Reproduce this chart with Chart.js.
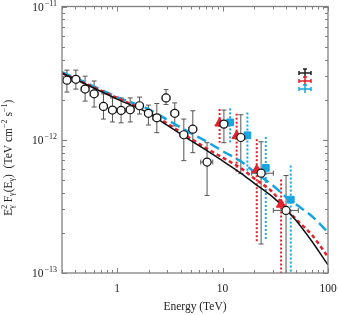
<!DOCTYPE html>
<html>
<head>
<meta charset="utf-8">
<script src="https://cdn.jsdelivr.net/npm/chart.js@4.4.1/dist/chart.umd.min.js"></script>
<style>
  html, body { margin: 0; padding: 0; background: #fff; }
  #wrap { width: 338px; height: 315px; }
</style>
</head>
<body>
<div id="wrap"><canvas id="sed"></canvas></div>
<script>
// values: energy in TeV, E^2 F in TeV cm^-2 s^-1
const obsE    = [0.334, 0.406, 0.497, 0.605, 0.742, 0.903, 1.09, 1.33, 1.63, 1.98, 2.38, 2.91, 3.52, 4.29, 5.22, 7.13, 10.3, 14.9, 23.2, 40.0];
const obsELo  = [0.306, 0.372, 0.456, 0.555, 0.681, 0.828, 1.00, 1.22, 1.49, 1.82, 2.18, 2.67, 3.23, 3.94, 4.79, 6.21, 9.26, 13.4, 18.9, 30.3];
const obsEHi  = [0.364, 0.443, 0.542, 0.660, 0.809, 0.985, 1.19, 1.45, 1.77, 2.16, 2.60, 3.17, 3.84, 4.68, 5.69, 8.07, 11.5, 16.6, 30.3, 52.3];
const obsF    = [2.80e-12, 2.84e-12, 2.40e-12, 2.21e-12, 1.78e-12, 1.67e-12, 1.66e-12, 1.68e-12, 1.80e-12, 1.58e-12, 1.46e-12, 2.06e-12, 1.58e-12, 1.09e-12, 1.20e-12, 6.80e-13, 1.31e-12, 1.04e-12, 5.61e-13, 2.95e-13];
const obsFHi  = [3.33e-12, 3.33e-12, 3.00e-12, 2.76e-12, 2.21e-12, 2.06e-12, 2.06e-12, 2.06e-12, 2.09e-12, 1.82e-12, 1.87e-12, 2.38e-12, 1.89e-12, 1.43e-12, 1.65e-12, 9.50e-13, 1.67e-12, 1.54e-12, 9.66e-13, 5.39e-13];
const obsFLo  = [2.28e-12, 2.40e-12, 1.95e-12, 1.76e-12, 1.43e-12, 1.36e-12, 1.34e-12, 1.36e-12, 1.56e-12, 1.29e-12, 1.13e-12, 1.84e-12, 1.27e-12, 6.97e-13, 8.00e-13, 3.82e-13, 9.50e-13, 5.57e-13, 1.65e-13, 1e-14];

const triE   = [9.37, 13.6, 21.1, 35.9];
const triF   = [1.33e-12, 1.07e-12, 5.94e-13, 3.27e-13];
const triFHi = [1.70e-12, 1.57e-12, 1.01e-12, 5.03e-13];
const triFLo = [9.50e-13, 5.67e-13, 1.67e-13, 1e-14];

const sqE   = [11.8, 17.2, 25.7, 44.3];
const sqF   = [1.35e-12, 1.08e-12, 6.15e-13, 3.55e-13];
const sqFHi = [1.72e-12, 1.60e-12, 1.05e-12, 6.40e-13];
const sqFLo = [9.50e-13, 5.57e-13, 1.76e-13, 1e-14];

const curveE     = [0.3, 0.5, 1, 2, 3, 5, 7, 10, 15, 20, 30, 40, 50, 70, 100];
const blackCurve = [3.16e-12, 2.62e-12, 2.02e-12, 1.58e-12, 1.28e-12, 9.87e-13, 8.35e-13, 6.94e-13, 5.60e-13, 4.71e-13, 3.71e-13, 3.00e-13, 2.47e-13, 1.74e-13, 1.15e-13];
const redCurve   = [3.16e-12, 2.64e-12, 2.06e-12, 1.60e-12, 1.32e-12, 1.02e-12, 8.64e-13, 7.35e-13, 6.10e-13, 5.12e-13, 4.02e-13, 3.05e-13, 2.52e-13, 1.94e-13, 1.32e-13];
const blueCurve  = [3.22e-12, 2.69e-12, 2.09e-12, 1.69e-12, 1.41e-12, 1.12e-12, 9.73e-13, 8.22e-13, 6.86e-13, 5.73e-13, 4.54e-13, 3.72e-13, 3.26e-13, 2.68e-13, 2.02e-13];

const xMajor = [1, 10, 100];
const xMinor = [0.3, 0.4, 0.5, 0.6, 0.7, 0.8, 0.9, 2, 3, 4, 5, 6, 7, 8, 9, 20, 30, 40, 50, 60, 70, 80, 90];
const yMajor = [1e-13, 1e-12, 1e-11];
const yMinor = [2e-13, 3e-13, 4e-13, 5e-13, 6e-13, 7e-13, 8e-13, 9e-13, 2e-12, 3e-12, 4e-12, 5e-12, 6e-12, 7e-12, 8e-12, 9e-12];
const xTickLabels = ["1", "10", "100"];
const yTickExps = ["\u221213", "\u221212", "\u221211"];

const RED = "#e4202b";
const BLUE = "#17a5e0";
const GREY = "#555555";
const FRAME = "#808080";
const SERIF = "'Liberation Serif', 'DejaVu Serif', serif";

const pts = (xs, ys) => xs.map((x, i) => ({ x: x, y: ys[i] }));

function drawBars(chart, list, color, dash, width, caps) {
    const ctx = chart.ctx;
    const area = chart.chartArea;
    const xScale = chart.scales.x, yScale = chart.scales.y;
    ctx.save();
    ctx.beginPath();
    ctx.rect(area.left, area.top, area.right - area.left, area.bottom - area.top);
    ctx.clip();
    ctx.strokeStyle = color;
    ctx.lineWidth = width;
    ctx.setLineDash(dash);
    for (let i = 0; i < list.x.length; i++) {
        const px = xScale.getPixelForValue(list.x[i]);
        const top = yScale.getPixelForValue(list.hi[i]);
        const bot = yScale.getPixelForValue(list.lo[i]);
        ctx.beginPath();
        ctx.moveTo(px, top);
        ctx.lineTo(px, bot);
        ctx.stroke();
        if (caps) {
            ctx.beginPath();
            ctx.moveTo(px - 2.5, top); ctx.lineTo(px + 2.5, top);
            ctx.moveTo(px - 2.5, bot); ctx.lineTo(px + 2.5, bot);
            ctx.stroke();
        }
        if (list.xlo) {
            const py = yScale.getPixelForValue(list.y[i]);
            const l = xScale.getPixelForValue(list.xlo[i]);
            const r = xScale.getPixelForValue(list.xhi[i]);
            ctx.beginPath();
            ctx.moveTo(l, py); ctx.lineTo(r, py);
            ctx.moveTo(l, py - 2.5); ctx.lineTo(l, py + 2.5);
            ctx.moveTo(r, py - 2.5); ctx.lineTo(r, py + 2.5);
            ctx.stroke();
        }
    }
    ctx.restore();
}

const errorBars = {
    id: "errorBars",
    beforeDatasetsDraw(chart) {
        drawBars(chart, { x: triE, hi: triFHi, lo: triFLo }, RED, [2, 2], 2, false);
        drawBars(chart, { x: sqE, hi: sqFHi, lo: sqFLo }, BLUE, [2, 2], 2, false);
        drawBars(chart, { x: obsE, y: obsF, hi: obsFHi, lo: obsFLo, xlo: obsELo, xhi: obsEHi }, GREY, [], 1, true);
    }
};

function powLabel(ctx, right, y, exp) {
    ctx.font = "11.5px " + SERIF;
    const wBase = ctx.measureText("10").width;
    ctx.font = "8px " + SERIF;
    const wExp = ctx.measureText(exp).width;
    ctx.textAlign = "left";
    ctx.textBaseline = "middle";
    ctx.font = "11.5px " + SERIF;
    ctx.fillText("10", right - wBase - wExp - 1, y + 1);
    ctx.font = "8px " + SERIF;
    ctx.fillText(exp, right - wExp, y - 3);
}

function richText(ctx, parts) {
    // parts: [text, size, dy, noAdvance]
    let w = 0;
    const widths = parts.map(p => {
        ctx.font = p[1] + "px " + SERIF;
        return p[3] ? 0 : ctx.measureText(p[0]).width;
    });
    widths.forEach(v => { w += v; });
    let x = -w / 2;
    parts.forEach((p, i) => {
        ctx.font = p[1] + "px " + SERIF;
        ctx.fillText(p[0], x, p[2]);
        x += widths[i];
    });
}

const frame = {
    id: "frame",
    afterDraw(chart) {
        const ctx = chart.ctx;
        const a = chart.chartArea;
        const xs = chart.scales.x, ys = chart.scales.y;
        ctx.save();
        ctx.strokeStyle = FRAME;
        ctx.lineWidth = 1.3;
        ctx.strokeRect(a.left, a.top, a.right - a.left, a.bottom - a.top);
        ctx.lineWidth = 1;
        ctx.beginPath();
        const xt = (v, len) => {
            const p = Math.round(xs.getPixelForValue(v)) + 0.5;
            ctx.moveTo(p, a.bottom); ctx.lineTo(p, a.bottom - len);
            ctx.moveTo(p, a.top); ctx.lineTo(p, a.top + len);
        };
        const yt = (v, len) => {
            const p = Math.round(ys.getPixelForValue(v)) + 0.5;
            ctx.moveTo(a.left, p); ctx.lineTo(a.left + len, p);
            ctx.moveTo(a.right, p); ctx.lineTo(a.right - len, p);
        };
        xMajor.forEach(v => xt(v, 5));
        xMinor.forEach(v => xt(v, 3));
        yMajor.forEach(v => yt(v, 5));
        yMinor.forEach(v => yt(v, 3));
        ctx.stroke();

        ctx.fillStyle = "#222";
        ctx.font = "11.5px " + SERIF;
        ctx.textAlign = "center";
        ctx.textBaseline = "middle";
        xMajor.forEach((v, i) => ctx.fillText(xTickLabels[i], xs.getPixelForValue(v), a.bottom + 16));
        yMajor.forEach((v, i) => powLabel(ctx, a.left - 5, ys.getPixelForValue(v), yTickExps[i]));

        ctx.textAlign = "center";
        ctx.textBaseline = "middle";
        ctx.font = "11.5px " + SERIF;
        ctx.fillText("Energy (TeV)", (a.left + a.right) / 2, 307);

        ctx.save();
        ctx.translate(9, (a.top + a.bottom) / 2 + 18);
        ctx.rotate(-Math.PI / 2);
        ctx.textAlign = "left";
        ctx.textBaseline = "middle";
        richText(ctx, [
            ["E", 11.5, 0], ["2", 8, -4, true], ["\u03b3", 8, 3], [" F", 11.5, 0], ["\u03b3", 8, 3],
            ["(E", 11.5, 0], ["\u03b3", 8, 3], [")", 11.5, 0], ["  (TeV cm", 11.5, 0], ["\u22122", 8, -4],
            [" s", 11.5, 0], ["\u22121", 8, -4], [")", 11.5, 0]
        ]);
        ctx.restore();

        // legend markers (their labels lie outside the crop)
        const legColors = ["#222", RED, BLUE];
        const lx = a.right - 23, ly = [73, 81, 89];
        legColors.forEach((c, i) => {
            ctx.strokeStyle = c;
            ctx.lineWidth = 1.5;
            ctx.beginPath();
            ctx.moveTo(lx - 6, ly[i]); ctx.lineTo(lx + 6, ly[i]);
            ctx.moveTo(lx - 6, ly[i] - 2); ctx.lineTo(lx - 6, ly[i] + 2);
            ctx.moveTo(lx + 6, ly[i] - 2); ctx.lineTo(lx + 6, ly[i] + 2);
            ctx.moveTo(lx, ly[i] - 4); ctx.lineTo(lx, ly[i] + 4);
            ctx.moveTo(lx - 2, ly[i] - 4); ctx.lineTo(lx + 2, ly[i] - 4);
            ctx.stroke();
        });
        ctx.restore();
    }
};

new Chart("sed", {
    type: "scatter",
    data: {
        datasets: [
            {
                type: "line", data: pts(curveE, blueCurve), borderColor: BLUE, borderWidth: 2.5,
                borderDash: [10, 5], pointRadius: 0, cubicInterpolationMode: "monotone", order: 5
            },
            {
                type: "line", data: pts(curveE, redCurve), borderColor: RED, borderWidth: 2.5,
                borderDash: [4, 3], pointRadius: 0, cubicInterpolationMode: "monotone", order: 4
            },
            {
                type: "line", data: pts(curveE, blackCurve), borderColor: "#111", borderWidth: 1.5,
                pointRadius: 0, cubicInterpolationMode: "monotone", order: 3
            },
            {
                data: pts(triE, triF), pointStyle: "triangle", pointRadius: 5.5,
                backgroundColor: RED, borderColor: RED, borderWidth: 1, order: 2
            },
            {
                data: pts(sqE, sqF), pointStyle: "rect", pointRadius: 4.8,
                backgroundColor: BLUE, borderColor: BLUE, borderWidth: 1, order: 2
            },
            {
                data: pts(obsE, obsF), pointStyle: "circle", pointRadius: 4,
                backgroundColor: "#fff", borderColor: "#111", borderWidth: 1.2, order: 1
            }
        ]
    },
    options: {
        responsive: true,
        maintainAspectRatio: false,
        animation: false,
        layout: { padding: { left: 62, right: 10, top: 5, bottom: 42 } },
        plugins: { legend: { display: false }, tooltip: { enabled: false } },
        scales: {
            x: { type: "logarithmic", min: 0.3, max: 100, display: false },
            y: { type: "logarithmic", min: 1e-13, max: 1e-11, display: false }
        }
    },
    plugins: [errorBars, frame]
});
</script>
</body>
</html>
